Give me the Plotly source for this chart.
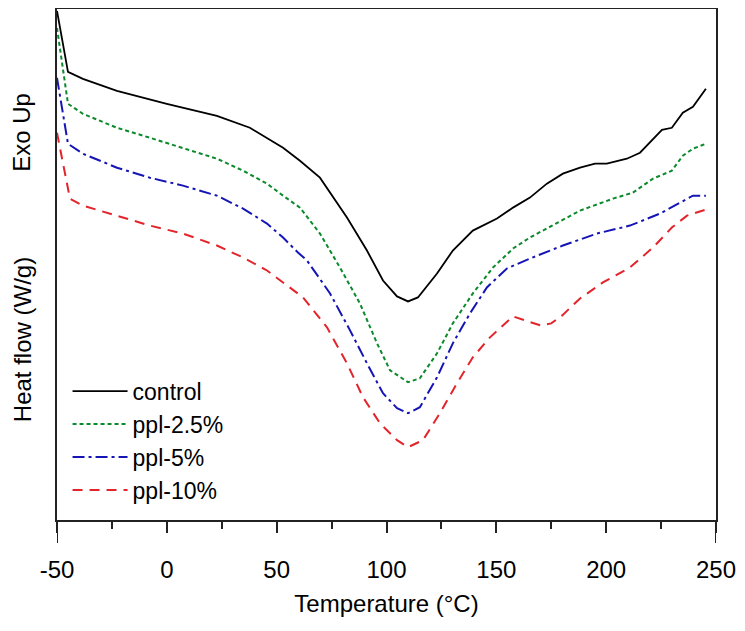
import plotly.graph_objects as go

# ---- data (temperature in °C, heat flow in arbitrary W/g units, exo up) ----
t_control = [-50, -45, -38.2, -22.7, 0, 22.8, 37.8, 52.9, 60.6, 69.7, 82.0, 91.1, 98.4, 104.8,
             109.8, 114.3, 123.0, 130.2, 139.3, 150.3, 157.6, 165.3, 173.0, 180.3, 188.1, 194.9,
             200.3, 209.4, 215.4, 219.9, 225.4, 229.9, 234.9, 239.5, 245.4]
hf_control = [5.10, 4.49, 4.42, 4.30, 4.17, 4.05, 3.93, 3.73, 3.60, 3.43, 3.03, 2.70, 2.40, 2.24,
              2.19, 2.23, 2.47, 2.70, 2.90, 3.02, 3.13, 3.23, 3.37, 3.47, 3.53, 3.57,
              3.57, 3.62, 3.68, 3.78, 3.91, 3.93, 4.08, 4.14, 4.32]

t_p25 = [-50, -45, -38.2, -22.7, -7.7, 7.35, 22.8, 34.7, 45.6, 52.9, 60.6, 69.7, 78.8, 87.9,
         95.7, 101.6, 109.8, 115.2, 123.0, 130.2, 139.3, 148.5, 157.6, 165.3, 173.0, 188.1,
         203.1, 212.2, 221.3, 229.9, 234.9, 239.5, 245.4]
hf_p25 = [4.93, 4.17, 4.07, 3.93, 3.83, 3.73, 3.62, 3.50, 3.37, 3.25, 3.13, 2.87, 2.53, 2.17,
          1.77, 1.50, 1.38, 1.42, 1.67, 1.97, 2.27, 2.53, 2.72, 2.83, 2.92, 3.10,
          3.22, 3.28, 3.42, 3.50, 3.65, 3.72, 3.77]

t_p5 = [-50, -45, -38.2, -22.7, -7.7, 7.35, 22.8, 34.7, 45.6, 52.9, 59.7, 63.8, 74.3, 83.4,
        91.1, 98.4, 104.8, 109.8, 115.2, 123.0, 130.2, 138.0, 145.7, 154.8, 165.3, 180.3,
        195.8, 210.8, 224.5, 233.6, 239.5, 245.4]
hf_p5 = [4.43, 3.77, 3.67, 3.53, 3.43, 3.35, 3.25, 3.12, 2.97, 2.83, 2.68, 2.60, 2.27, 1.90,
         1.57, 1.27, 1.12, 1.07, 1.13, 1.43, 1.77, 2.07, 2.33, 2.52, 2.62, 2.75,
         2.87, 2.95, 3.07, 3.18, 3.25, 3.25]

t_p10 = [-50, -44.1, -38.2, -22.7, -7.7, 7.35, 22.8, 34.7, 45.6, 52.9, 59.7, 62.0, 72.9, 82.0,
         89.3, 97.0, 104.8, 109.8, 116.6, 124.3, 132.1, 139.3, 147.1, 157.6, 163.0, 170.0,
         175.0, 180.0, 188.1, 198.5, 210.8, 221.3, 229.9, 236.8, 245.4]
hf_p10 = [3.88, 3.22, 3.15, 3.05, 2.95, 2.87, 2.75, 2.63, 2.50, 2.38, 2.27, 2.23, 1.93, 1.57,
          1.23, 0.97, 0.80, 0.73, 0.80, 1.07, 1.37, 1.63, 1.83, 2.04, 2.00, 1.95,
          1.97, 2.05, 2.22, 2.38, 2.53, 2.73, 2.93, 3.05, 3.11]

x_ticks = [-50, 0, 50, 100, 150, 200, 250]
x_tick_labels = ["-50", "0", "50", "100", "150", "200", "250"]
series_names = ["control", "ppl-2.5%", "ppl-5%", "ppl-10%"]

FONT = "Liberation Sans, Arial, sans-serif"
FS = 24

styles = [
    dict(color="#000000", dash="solid", width=1.8),
    dict(color="#0b8a2c", dash="4px,3px", width=2),
    dict(color="#1515b5", dash="12px,4px,3px,4px", width=2),
    dict(color="#e3242b", dash="10px,7px", width=2),
]

fig = go.Figure()
for name, xs, ys, st in zip(series_names,
                            [t_control, t_p25, t_p5, t_p10],
                            [hf_control, hf_p25, hf_p5, hf_p10],
                            styles):
    fig.add_trace(go.Scatter(x=xs, y=ys, mode="lines", name=name, line=st))

fig.update_layout(
    width=737, height=623,
    margin=dict(l=49, r=29, t=1, b=111),
    paper_bgcolor="white", plot_bgcolor="white",
    font=dict(family=FONT, size=FS, color="#000"),
    showlegend=True,
    legend=dict(x=0.016, y=0.294, xanchor="left", yanchor="top",
                bgcolor="rgba(0,0,0,0)", borderwidth=0,
                font=dict(family=FONT, size=FS - 1, color="#000"),
                itemwidth=55, tracegroupgap=0),
    xaxis=dict(range=[-50, 250], tickmode="array", tickvals=x_ticks, ticktext=x_tick_labels,
               ticks="outside", ticklen=11, tickwidth=1.5, tickcolor="#222",
               minor=dict(ticks="outside", ticklen=7, tickwidth=1.5, dtick=25,
                          tickcolor="#222", tick0=-50),
               showline=True, linecolor="#222", linewidth=2, mirror=True,
               showgrid=False, zeroline=False, automargin=False,
               ticklabelstandoff=16,
               title=dict(text="Temperature (°C)", standoff=13,
                          font=dict(family=FONT, size=FS))),
    yaxis=dict(range=[0, 5.12], showticklabels=False, ticks="",
               showline=True, linecolor="#222", linewidth=2, mirror=True,
               showgrid=False, zeroline=False, automargin=False),
    annotations=[
        dict(text="Heat flow (W/g)", xref="paper", yref="paper", x=-0.053, y=0.352,
             textangle=-90, showarrow=False, xanchor="center", yanchor="middle",
             font=dict(family=FONT, size=FS)),
        dict(text="Exo Up", xref="paper", yref="paper", x=-0.053, y=0.758,
             textangle=-90, showarrow=False, xanchor="center", yanchor="middle",
             font=dict(family=FONT, size=FS)),
    ],
    shapes=[
        dict(type="line", xref="x", yref="paper", x0=-50, x1=-50, y0=0, y1=-0.045,
             line=dict(color="#222", width=2)),
        dict(type="line", xref="x", yref="paper", x0=250, x1=250, y0=0, y1=-0.045,
             line=dict(color="#222", width=2)),
    ],
)

fig.write_html("out.html")
